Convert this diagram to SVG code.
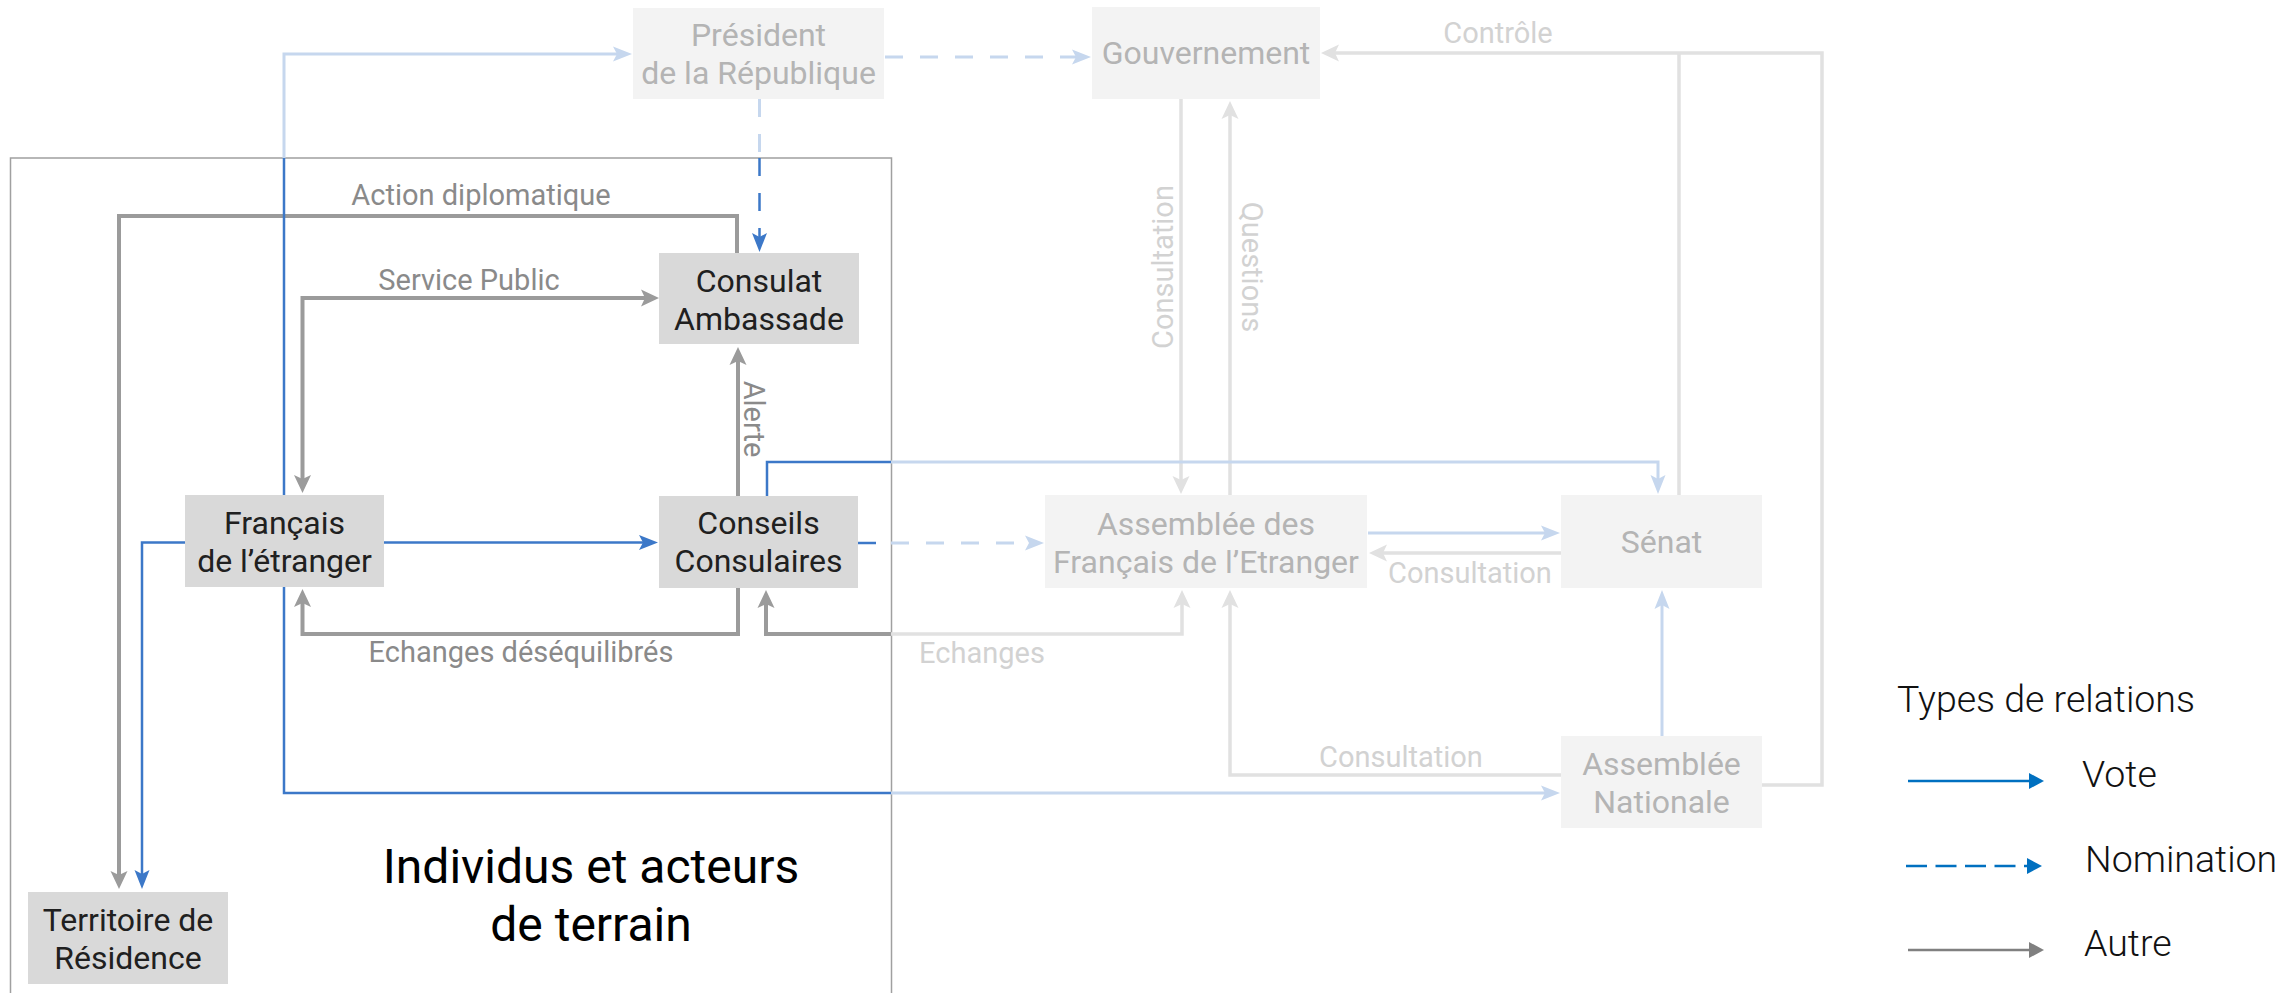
<svg xmlns="http://www.w3.org/2000/svg" width="2282" height="993" viewBox="0 0 2282 993">
<style>
text{font-family:Roboto,"Liberation Sans",sans-serif}
.nt{font-size:32px;fill:#202020;text-anchor:middle}
.nf{font-size:32px;fill:#b4b4b4;text-anchor:middle}
.bi{fill:#d9d9d9}
.bo{fill:#f3f3f3}
.lt{font-size:29px;fill:#8a8a8a;text-anchor:middle}
.lf{font-size:29px;fill:#d2d2d2;text-anchor:middle}
.c{fill:none;stroke-linejoin:miter}
.dg{stroke:#9b9b9b;stroke-width:4}
.lg{stroke:#e1e1e1;stroke-width:3.5}
.db{stroke:#3c78c8;stroke-width:2.5}
.lb{stroke:#c6d7ee;stroke-width:3}
.dash{stroke-dasharray:18 17}
.leg{font-size:37.5px;font-weight:300;fill:#111}
</style>
<defs>
<marker id="aDG" markerUnits="userSpaceOnUse" viewBox="-20 -20 40 40" markerWidth="40" markerHeight="40" refX="0" refY="0" orient="auto-start-reverse"><path d="M10,0 L-8,-8.5 L-4,0 L-8,8.5 Z" fill="#9b9b9b"/></marker>
<marker id="aLG" markerUnits="userSpaceOnUse" viewBox="-20 -20 40 40" markerWidth="40" markerHeight="40" refX="0" refY="0" orient="auto-start-reverse"><path d="M10,0 L-8,-8.5 L-4,0 L-8,8.5 Z" fill="#e1e1e1"/></marker>
<marker id="aDB" markerUnits="userSpaceOnUse" viewBox="-20 -20 40 40" markerWidth="40" markerHeight="40" refX="0" refY="0" orient="auto-start-reverse"><path d="M10,0 L-9,-7.5 L-5,0 L-9,7.5 Z" fill="#3c78c8"/></marker>
<marker id="aLB" markerUnits="userSpaceOnUse" viewBox="-20 -20 40 40" markerWidth="40" markerHeight="40" refX="0" refY="0" orient="auto-start-reverse"><path d="M10,0 L-9,-7.5 L-5,0 L-9,7.5 Z" fill="#c6d7ee"/></marker>
<marker id="gB" markerUnits="userSpaceOnUse" viewBox="-20 -20 40 40" markerWidth="40" markerHeight="40" refX="0" refY="0" orient="auto"><path d="M10,0 L-5,-8 L-5,8 Z" fill="#0070c0"/></marker>
<marker id="gG" markerUnits="userSpaceOnUse" viewBox="-20 -20 40 40" markerWidth="40" markerHeight="40" refX="0" refY="0" orient="auto"><path d="M10,0 L-5,-8 L-5,8 Z" fill="#808080"/></marker>
</defs>
<rect width="2282" height="993" fill="#ffffff"/>
<g id="frame">
<rect x="10.5" y="158" width="881" height="850" fill="none" stroke="#a0a0a0" stroke-width="1.5"/>
<text x="591" y="883" style="font-size:48px;fill:#000;text-anchor:middle">Individus et acteurs</text>
<text x="591" y="941" style="font-size:48px;fill:#000;text-anchor:middle">de terrain</text>
</g>
<g id="connectors">
<path class="c lg" d="M1762,785 H1822 V53 H1331" marker-end="url(#aLG)"/>
<path class="c lg" d="M1679,495 V53"/>
<path class="c lg" d="M1181,99 V484" marker-end="url(#aLG)"/>
<path class="c lg" d="M1230,495 V111" marker-end="url(#aLG)"/>
<path class="c lg" d="M1561,553 H1379" marker-end="url(#aLG)"/>
<path class="c lg" d="M1561,775 H1230 V600" marker-end="url(#aLG)"/>
<path class="c lg" d="M891,634 H1182 V600" marker-end="url(#aLG)"/>
<path class="c lb" d="M1368,533 H1550" marker-end="url(#aLB)"/>
<path class="c lb" d="M1662,736 V600" marker-end="url(#aLB)"/>
<path class="c lb dash" d="M885,57 H1081" marker-end="url(#aLB)"/>
<path class="c lb" d="M284,158 V54 H622" marker-end="url(#aLB)"/>
<path class="c lb" d="M891,793 H1550" marker-end="url(#aLB)"/>
<path class="c lb" d="M891,462 H1658 V484" marker-end="url(#aLB)"/>
<path class="c lb dash" d="M891,543 H1034" marker-end="url(#aLB)"/>
<path class="c lb dash" d="M759.5,99 V158"/>
<path class="c dg" d="M737,253 V216 H119 V879" marker-end="url(#aDG)"/>
<path class="c dg" d="M302.5,483 V298 H649" marker-start="url(#aDG)" marker-end="url(#aDG)"/>
<path class="c dg" d="M738,496 V357" marker-end="url(#aDG)"/>
<path class="c dg" d="M738,588 V634 H302.5 V599" marker-end="url(#aDG)"/>
<path class="c dg" d="M891,634 H766 V600" marker-end="url(#aDG)"/>
<path class="c db" d="M384,542.5 H648" marker-end="url(#aDB)"/>
<path class="c db" d="M185,542.5 H142 V879" marker-end="url(#aDB)"/>
<path class="c db" d="M284,495 V158"/>
<path class="c db" d="M284,587 V793 H891"/>
<path class="c db" d="M767,496 V462 H891"/>
<path class="c db dash" d="M858,543 H891"/>
<path class="c db dash" d="M759.5,158 V242" marker-end="url(#aDB)"/>
<text class="lt" x="481" y="205">Action diplomatique</text>
<text class="lt" x="469" y="290">Service Public</text>
<text class="lt" transform="translate(744,419) rotate(90)">Alerte</text>
<text class="lt" x="521" y="662">Echanges déséquilibrés</text>
<text class="lf" x="982" y="663">Echanges</text>
<text class="lf" x="1498" y="43">Contrôle</text>
<text class="lf" transform="translate(1173,267) rotate(-90)">Consultation</text>
<text class="lf" transform="translate(1242,267) rotate(90)">Questions</text>
<text class="lf" x="1470" y="583">Consultation</text>
<text class="lf" x="1401" y="767">Consultation</text>
</g>
<g id="president">
<rect class="bo" x="633" y="8" width="251" height="91"/>
<text class="nf" x="758.5" y="46">Président</text>
<text class="nf" x="758.5" y="84">de la République</text>
</g>
<g id="gouvernement">
<rect class="bo" x="1092" y="7" width="228" height="92"/>
<text class="nf" x="1206" y="64">Gouvernement</text>
</g>
<g id="consulat">
<rect class="bi" x="659" y="253" width="200" height="91"/>
<text class="nt" x="759" y="292">Consulat</text>
<text class="nt" x="759" y="330">Ambassade</text>
</g>
<g id="francais">
<rect class="bi" x="185" y="495" width="199" height="92"/>
<text class="nt" x="284.5" y="534">Français</text>
<text class="nt" x="284.5" y="572">de l’étranger</text>
</g>
<g id="conseils">
<rect class="bi" x="659" y="496" width="199" height="92"/>
<text class="nt" x="758.5" y="534">Conseils</text>
<text class="nt" x="758.5" y="572">Consulaires</text>
</g>
<g id="afe">
<rect class="bo" x="1045" y="495" width="322" height="93"/>
<text class="nf" x="1206" y="535">Assemblée des</text>
<text class="nf" x="1206" y="573">Français de l’Etranger</text>
</g>
<g id="senat">
<rect class="bo" x="1561" y="495" width="201" height="93"/>
<text class="nf" x="1661.5" y="553">Sénat</text>
</g>
<g id="assemblee-nationale">
<rect class="bo" x="1561" y="736" width="201" height="92"/>
<text class="nf" x="1661.5" y="775">Assemblée</text>
<text class="nf" x="1661.5" y="813">Nationale</text>
</g>
<g id="territoire">
<rect class="bi" x="28" y="892" width="200" height="92"/>
<text class="nt" x="128" y="931">Territoire de</text>
<text class="nt" x="128" y="969">Résidence</text>
</g>
<g id="legend">
<text class="leg" x="1897" y="712">Types de relations</text>
<path d="M1908,781 H2034" fill="none" stroke="#0070c0" stroke-width="2.7" marker-end="url(#gB)"/>
<text class="leg" x="2082" y="787">Vote</text>
<path d="M1906,866 H2032" fill="none" stroke="#0070c0" stroke-width="2.7" stroke-dasharray="21 8.5" marker-end="url(#gB)"/>
<text class="leg" x="2085" y="872">Nomination</text>
<path d="M1908,950 H2034" fill="none" stroke="#808080" stroke-width="2.7" marker-end="url(#gG)"/>
<text class="leg" x="2084" y="956">Autre</text>
</g>
</svg>
